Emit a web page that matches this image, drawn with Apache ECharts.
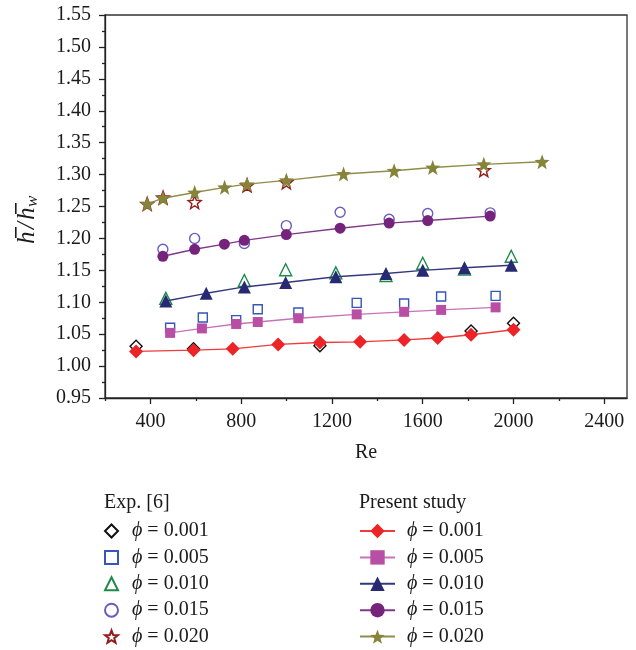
<!DOCTYPE html>
<html>
<head>
<meta charset="utf-8">
<script src="https://cdn.jsdelivr.net/npm/echarts@6/dist/echarts.min.js"></script>
<style>
html, body { margin: 0; padding: 0; background: #fff; }
#chart { width: 636px; height: 650px; }
</style>
</head>
<body>
<div id="chart"></div>
<script>
// Experimental data, Exp. [6]
const reExp001 = [337, 590, 1147, 1813, 2000];
const hExp001  = [1.031, 1.027, 1.032, 1.055, 1.067];
const reExp005 = [487, 631, 778, 873, 1052, 1309, 1518, 1681, 1921];
const hExp005  = [1.060, 1.076, 1.072, 1.089, 1.084, 1.099, 1.098, 1.109, 1.110];
const reExp010 = [468, 814, 996, 1217, 1438, 1600, 1784, 1990];
const hExp010  = [1.106, 1.134, 1.151, 1.146, 1.142, 1.161, 1.152, 1.172];
const reExp015 = [455, 595, 814, 999, 1236, 1452, 1622, 1897];
const hExp015  = [1.183, 1.200, 1.192, 1.220, 1.241, 1.230, 1.239, 1.240];
const reExp020 = [386, 456, 595, 826, 999, 1869];
const hExp020  = [1.254, 1.264, 1.257, 1.283, 1.288, 1.307];

// Present study (numerical results)
const rePre001 = [337, 590, 763, 963, 1147, 1324, 1518, 1666, 1813, 2000];
const hPre001  = [1.023, 1.025, 1.027, 1.034, 1.037, 1.038, 1.041, 1.044, 1.049, 1.057];
const rePre005 = [487, 627, 778, 873, 1052, 1309, 1518, 1681, 1921];
const hPre005  = [1.052, 1.059, 1.066, 1.069, 1.075, 1.081, 1.085, 1.088, 1.092];
const rePre010 = [468, 646, 814, 996, 1217, 1438, 1600, 1784, 1990];
const hPre010  = [1.102, 1.114, 1.124, 1.131, 1.140, 1.145, 1.150, 1.154, 1.158];
const rePre015 = [455, 595, 726, 814, 999, 1236, 1452, 1622, 1897];
const hPre015  = [1.172, 1.183, 1.191, 1.197, 1.206, 1.216, 1.224, 1.228, 1.235];
const rePre020 = [386, 456, 595, 727, 826, 999, 1251, 1474, 1644, 1869, 2126];
const hPre020  = [1.254, 1.263, 1.272, 1.280, 1.285, 1.291, 1.301, 1.306, 1.311, 1.316, 1.320];

const phiLabels = ['0.001', '0.005', '0.010', '0.015', '0.020'];
const xMajorTicks = [400, 800, 1200, 1600, 2000, 2400];
const xMinorTicks = [200, 600, 1000, 1400, 1800, 2200];

const FONT = '"Liberation Serif", "DejaVu Serif", serif';

function pairs(xs, ys) { return xs.map((x, i) => [x, ys[i]]); }

// five-pointed star symbol
function starPath() {
  const pts = [];
  for (let i = 0; i < 10; i++) {
    const r = i % 2 === 0 ? 50 : 21;
    const a = -Math.PI / 2 + i * Math.PI / 5;
    pts.push((50 + r * Math.cos(a)).toFixed(2) + ',' + (50 + r * Math.sin(a)).toFixed(2));
  }
  return 'path://M' + pts.join(' L') + ' Z';
}
const STAR = starPath();

const expDefs = [
  { re: reExp001, h: hExp001, symbol: 'diamond',  size: 12, color: '#111111' },
  { re: reExp005, h: hExp005, symbol: 'rect',     size: 9,  color: '#3656b8' },
  { re: reExp010, h: hExp010, symbol: 'triangle', size: 12, color: '#1f8a4c' },
  { re: reExp015, h: hExp015, symbol: 'circle',   size: 10, color: '#6a5cc0' },
  { re: reExp020, h: hExp020, symbol: STAR,       size: 13, color: '#951c1c' }
];
const preDefs = [
  { re: rePre001, h: hPre001, symbol: 'diamond',  size: 14, color: '#ec2327', line: '#ef3b3b' },
  { re: rePre005, h: hPre005, symbol: 'rect',     size: 10, color: '#b84fa5', line: '#c574b8' },
  { re: rePre010, h: hPre010, symbol: 'triangle', size: 13, color: '#272a72', line: '#35387e' },
  { re: rePre015, h: hPre015, symbol: 'circle',   size: 11, color: '#75237b', line: '#81378a' },
  { re: rePre020, h: hPre020, symbol: STAR,       size: 15, color: '#86843a', line: '#8f8d4a' }
];

const expNames = phiLabels.map(p => 'Exp ϕ = ' + p);
const preNames = phiLabels.map(p => 'Present ϕ = ' + p);

const series = [];
expDefs.forEach((d, i) => {
  series.push({
    name: expNames[i],
    type: 'scatter',
    z: 2,
    symbol: d.symbol,
    symbolSize: d.size,
    itemStyle: { color: 'rgba(255,255,255,0)', borderColor: d.color, borderWidth: 1.4, opacity: 1 },
    data: pairs(d.re, d.h)
  });
});
preDefs.forEach((d, i) => {
  series.push({
    name: preNames[i],
    type: 'line',
    z: 3,
    symbol: d.symbol,
    symbolSize: d.size,
    showAllSymbol: true,
    lineStyle: { color: d.line, width: 1.4 },
    itemStyle: { color: d.color, borderWidth: 0 },
    data: pairs(d.re, d.h)
  });
});

const legendText = {
  fontFamily: FONT,
  fontSize: 20,
  color: '#1a1a1a',
  lineHeight: 20,
  rich: {
    i: { fontFamily: FONT, fontSize: 20, fontStyle: 'italic', color: '#1a1a1a', lineHeight: 20 },
    t: { fontFamily: FONT, fontSize: 20, color: '#1a1a1a', lineHeight: 20 }
  }
};
function legendFormatter(name) {
  const v = name.split('= ')[1];
  return '{i|ϕ}{t| = ' + v + '}';
}

const chart = echarts.init(document.getElementById('chart'), null, { renderer: 'canvas' });
chart.setOption({
  animation: false,
  backgroundColor: '#ffffff',
  grid: {
    left: 105, top: 15, right: 9, bottom: 252,
    show: true, borderColor: '#333', borderWidth: 1.3, backgroundColor: 'transparent',
    containLabel: false
  },
  xAxis: [
    {
      type: 'value', min: 200, max: 2500,
      name: 'Re', nameLocation: 'middle', nameGap: 45,
      nameTextStyle: { fontFamily: FONT, fontSize: 20, color: '#1a1a1a' },
      axisLine: { lineStyle: { color: '#222', width: 1.3 } },
      axisTick: { show: true, inside: false, length: 6, customValues: xMajorTicks, lineStyle: { color: '#222', width: 1.3 } },
      axisLabel: {
        customValues: xMajorTicks, margin: 14, fontFamily: FONT, fontSize: 20, color: '#1a1a1a',
        formatter: v => String(v)
      },
      splitLine: { show: false }
    },
    {
      type: 'value', min: 200, max: 2500, position: 'bottom',
      axisLine: { show: false },
      axisTick: { show: true, inside: false, length: 3, customValues: xMinorTicks, lineStyle: { color: '#222', width: 1.3 } },
      axisLabel: { show: false },
      splitLine: { show: false }
    }
  ],
  yAxis: {
    type: 'value', min: 0.95, max: 1.55, interval: 0.05,
    axisLine: { show: true, lineStyle: { color: '#222', width: 1.3 } },
    axisTick: { show: true, inside: false, length: 6, lineStyle: { color: '#222', width: 1.3 } },
    minorTick: { show: true, splitNumber: 2, length: 3, lineStyle: { color: '#222', width: 1.3 } },
    axisLabel: {
      margin: 14, fontFamily: FONT, fontSize: 20, color: '#1a1a1a',
      formatter: v => v.toFixed(2)
    },
    splitLine: { show: false },
    minorSplitLine: { show: false }
  },
  legend: [
    {
      data: expNames,
      orient: 'vertical',
      left: 104, top: 521, height: 140, padding: 0,
      itemWidth: 13, itemHeight: 13, itemGap: 6.4,
      selectedMode: false,
      formatter: legendFormatter,
      textStyle: Object.assign({ padding: [0, 0, 0, 9] }, legendText)
    },
    {
      data: preNames,
      orient: 'vertical',
      left: 359, top: 521, height: 140, padding: 0,
      itemWidth: 35, itemHeight: 18, itemGap: 6.4,
      selectedMode: false,
      formatter: legendFormatter,
      textStyle: Object.assign({ padding: [0, 0, 0, 7] }, legendText)
    }
  ],
  graphic: [
    {
      type: 'text', left: 104, top: 493,
      style: { text: 'Exp. [6]', font: '20px ' + FONT, fill: '#1a1a1a' }
    },
    {
      type: 'text', left: 359, top: 493,
      style: { text: 'Present study', font: '20px ' + FONT, fill: '#1a1a1a' }
    },
    {
      // y-axis title: h-bar / h-bar subscript w, reading bottom to top
      type: 'group',
      x: 27, y: 216,
      rotation: Math.PI / 2,
      children: [
        { type: 'text', x: -28, y: 0, style: { text: 'h', font: 'italic 25px ' + FONT, fill: '#1a1a1a', verticalAlign: 'middle' } },
        { type: 'rect', shape: { x: -22, y: -12, width: 11, height: 1.6 }, style: { fill: '#1a1a1a' } },
        { type: 'text', x: -13, y: 0, style: { text: '/', font: 'italic 25px ' + FONT, fill: '#1a1a1a', verticalAlign: 'middle' } },
        { type: 'text', x: -4, y: 0, style: { text: 'h', font: 'italic 25px ' + FONT, fill: '#1a1a1a', verticalAlign: 'middle' } },
        { type: 'rect', shape: { x: 2, y: -12, width: 11, height: 1.6 }, style: { fill: '#1a1a1a' } },
        { type: 'text', x: 9, y: 6, style: { text: 'w', font: 'italic 17px ' + FONT, fill: '#1a1a1a', verticalAlign: 'middle' } }
      ]
    }
  ],
  series: series
});
</script>
</body>
</html>
